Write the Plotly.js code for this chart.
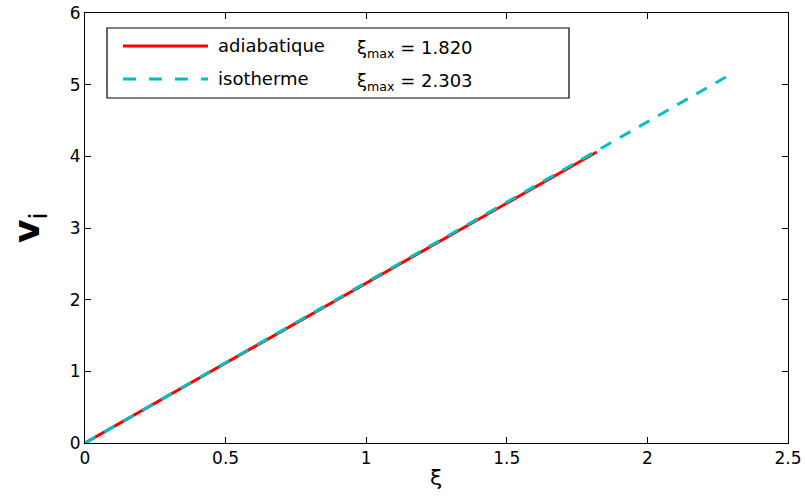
<!DOCTYPE html>
<html>
<head>
<meta charset="utf-8">
<script src="https://cdn.plot.ly/plotly-3.0.1.min.js"></script>
<style>body{margin:0;background:#fff}#c{width:805px;height:496px}</style>
</head>
<body>
<div id="c"></div>
<script>
const xiAdiab = [0, 1.820];
const vAdiab = [0, 4.06];
const xiIso = [0, 2.303];
const vIso = [0, 5.16];
const seriesNames = ["adiabatique", "isotherme"];
const ximaxLabels = ["ξ<sub>max</sub> = 1.820", "ξ<sub>max</sub> = 2.303"];
const xTicks = [0, 0.5, 1, 1.5, 2, 2.5];
const yTicks = [0, 1, 2, 3, 4, 5, 6];

const font = "DejaVu Sans, Liberation Sans, Arial, sans-serif";
const red = "#ff0000", cyan = "#00bfbf";

const traces = [
  {x: xiAdiab, y: vAdiab, mode: "lines", name: seriesNames[0],
   line: {color: red, width: 3}},
  {x: xiIso, y: vIso, mode: "lines", name: seriesNames[1],
   line: {color: cyan, width: 3, dash: "12px,10px"}}
];

const L = 85, R = 788, T = 13, B = 443;
const px = x => (x - L) / (R - L);
const py = y => (B - y) / (B - T);

const layout = {
  width: 805, height: 496,
  margin: {l: L, r: 805 - R, t: T, b: 496 - B},
  paper_bgcolor: "#fff", plot_bgcolor: "#fff",
  showlegend: false,
  font: {family: font, size: 17, color: "#000"},
  xaxis: {range: [0, 2.5], tickvals: xTicks, ticktext: xTicks.map(String),
    ticks: "inside", ticklen: 6, tickcolor: "#000", showline: true, linecolor: "#000",
    linewidth: 1, mirror: "ticks", showgrid: false, zeroline: false,
    tickfont: {size: 17}},
  yaxis: {range: [0, 6], tickvals: yTicks, ticktext: yTicks.map(String),
    ticks: "inside", ticklen: 6, tickcolor: "#000", showline: true, linecolor: "#000",
    linewidth: 1, mirror: "ticks", showgrid: false, zeroline: false,
    tickfont: {size: 17}},
  shapes: [
    {type: "rect", xref: "paper", yref: "paper", x0: px(107), x1: px(569), y0: py(28), y1: py(98),
     line: {color: "#000", width: 1.2}, fillcolor: "#fff"},
    {type: "line", xref: "paper", yref: "paper", x0: px(123), x1: px(208), y0: py(46), y1: py(46),
     line: {color: red, width: 3}},
    {type: "line", xref: "paper", yref: "paper", x0: px(123), x1: px(208), y0: py(79), y1: py(79),
     line: {color: cyan, width: 3, dash: "13px,13px"}}
  ],
  annotations: [
    {xref: "paper", yref: "paper", x: px(216), y: py(45), xanchor: "left", yanchor: "middle",
     text: seriesNames[0], showarrow: false, font: {size: 18}},
    {xref: "paper", yref: "paper", x: px(216), y: py(78), xanchor: "left", yanchor: "middle",
     text: seriesNames[1], showarrow: false, font: {size: 18}},
    {xref: "paper", yref: "paper", x: px(355), y: py(49), xanchor: "left", yanchor: "middle",
     text: ximaxLabels[0], showarrow: false, font: {size: 18}},
    {xref: "paper", yref: "paper", x: px(355), y: py(82), xanchor: "left", yanchor: "middle",
     text: ximaxLabels[1], showarrow: false, font: {size: 18}},
    {xref: "paper", yref: "paper", x: px(436), y: py(478), xanchor: "center", yanchor: "middle",
     text: "ξ", showarrow: false, font: {size: 22}},
    {xref: "paper", yref: "paper", x: px(29), y: py(228), xanchor: "center", yanchor: "middle",
     text: "<b>v</b><sub>i</sub>", textangle: -90, showarrow: false, font: {size: 36}}
  ]
};

Plotly.newPlot("c", traces, layout, {displayModeBar: false, staticPlot: true});
</script>
</body>
</html>
